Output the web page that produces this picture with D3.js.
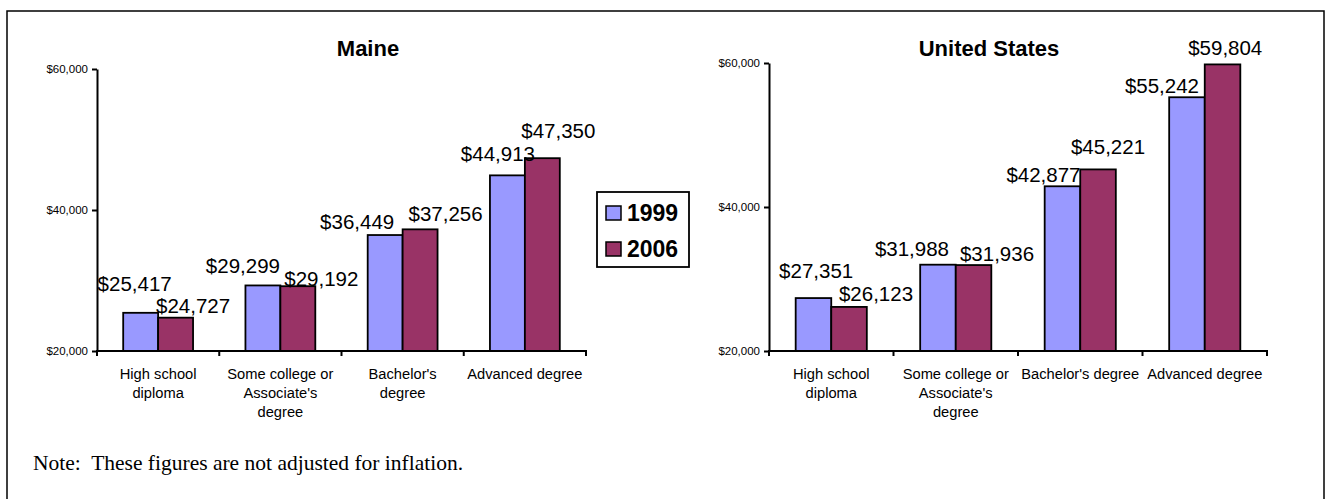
<!DOCTYPE html>
<html>
<head>
<meta charset="utf-8">
<script src="https://cdn.jsdelivr.net/npm/d3@7"></script>
<style>
  html, body { margin: 0; padding: 0; background: #fff; }
  svg { display: block; }
  text { font-family: "Liberation Sans", Arial, sans-serif; fill: #000; }
</style>
</head>
<body>
<svg id="chart" width="1329" height="499"></svg>
<script>
// ---------- data ----------
const categories = ["High school diploma", "Some college or Associate's degree", "Bachelor's degree", "Advanced degree"];
const maineTickLabels = [["High school", "diploma"], ["Some college or", "Associate's", "degree"], ["Bachelor's", "degree"], ["Advanced degree"]];
const usTickLabels = [["High school", "diploma"], ["Some college or", "Associate's", "degree"], ["Bachelor's degree"], ["Advanced degree"]];
const seriesNames = ["1999", "2006"];
const maine1999 = [25417, 29299, 36449, 44913];
const maine2006 = [24727, 29192, 37256, 47350];
const us1999 = [27351, 31988, 42877, 55242];
const us2006 = [26123, 31936, 45221, 59804];
const yTickValues = [20000, 40000, 60000];
const noteText = "Note:  These figures are not adjusted for inflation.";

// label nudges relative to bar centre / bar top (as placed in the original)
const maineNudgeX = [[-6, 17.5], [-20, 23.5], [-28, 25.5], [-9.5, 16]];
const maineGap = [[22, 5], [12, 0], [6, 8.6], [14.7, 20.6]];
const usNudgeX = [[2.7, 27], [-26, 23.5], [-19, 10], [-25, 2.7]];
const usGap = [[19.7, 6], [9, 4.3], [4.3, 15], [4.4, 9.3]];

const colors = ["#9999FF", "#993366"];
const fmt = d => "$" + d3.format(",")(d);

const svg = d3.select("#chart");

// outer border
svg.append("rect").attr("x", 7).attr("y", 11).attr("width", 1317).attr("height", 500)
  .attr("fill", "none").attr("stroke", "#000").attr("stroke-width", 1.5);

const charts = [
  { title: "Maine", titleX: 368, x0: 97, x1: 586, yTop: 69, yBottom: 351,
    values: [maine1999, maine2006], ticks: maineTickLabels, nx: maineNudgeX, gap: maineGap },
  { title: "United States", titleX: 989, x0: 769, x1: 1267, yTop: 63, yBottom: 351,
    values: [us1999, us2006], ticks: usTickLabels, nx: usNudgeX, gap: usGap }
];

charts.forEach(c => {
  const g = svg.append("g");
  const x = d3.scaleBand().domain(categories).range([c.x0, c.x1]).paddingInner(0).paddingOuter(0);
  const xs = d3.scaleBand().domain(seriesNames).range([0, x.bandwidth()]).paddingInner(0).paddingOuter(0.75);
  const y = d3.scaleLinear().domain([20000, 60000]).range([c.yBottom, c.yTop]);

  // title
  g.append("text").attr("x", c.titleX).attr("y", 56).attr("text-anchor", "middle")
    .style("font-size", "22px").style("font-weight", "bold").text(c.title);

  // bars
  seriesNames.forEach((s, si) => {
    g.selectAll(null).data(c.values[si]).enter().append("rect")
      .attr("x", (d, i) => x(categories[i]) + xs(s))
      .attr("y", d => y(d))
      .attr("width", xs.bandwidth())
      .attr("height", d => y(20000) - y(d))
      .attr("fill", colors[si])
      .attr("stroke", "#000").attr("stroke-width", 1.8);
  });

  // y axis
  const yAxis = d3.axisLeft(y).tickValues(yTickValues).tickSize(5).tickSizeOuter(0).tickPadding(4)
    .tickFormat(fmt);
  const ya = g.append("g").attr("transform", `translate(${c.x0},0)`).call(yAxis);
  ya.select(".domain").attr("stroke-width", 2);
  ya.selectAll(".tick line").attr("stroke-width", 2);
  ya.selectAll(".tick text").style("font-size", "11.5px")
    .style("font-family", '"Liberation Sans", Arial, sans-serif').attr("fill", "#000");

  // x axis line + boundary ticks
  g.append("line").attr("x1", c.x0 - 1).attr("x2", c.x1 + 1)
    .attr("y1", y(20000)).attr("y2", y(20000)).attr("stroke", "#000").attr("stroke-width", 2);
  const bounds = categories.map(cat => x(cat)).concat([x(categories[categories.length - 1]) + x.bandwidth()]);
  g.selectAll(null).data(bounds).enter().append("line")
    .attr("x1", d => d).attr("x2", d => d)
    .attr("y1", y(20000)).attr("y2", y(20000) + 5)
    .attr("stroke", "#000").attr("stroke-width", 2);

  // category labels
  categories.forEach((cat, i) => {
    const t = g.append("text").attr("text-anchor", "middle")
      .attr("x", x(cat) + x.bandwidth() / 2).attr("y", 379.3)
      .style("font-size", "14.7px");
    c.ticks[i].forEach((line, li) => {
      t.append("tspan").attr("x", x(cat) + x.bandwidth() / 2).attr("dy", li === 0 ? 0 : 18.7).text(line);
    });
  });

  // value labels
  seriesNames.forEach((s, si) => {
    g.selectAll(null).data(c.values[si]).enter().append("text")
      .attr("text-anchor", "middle")
      .attr("x", (d, i) => x(categories[i]) + xs(s) + xs.bandwidth() / 2 + c.nx[i][si])
      .attr("y", (d, i) => y(d) - c.gap[i][si])
      .style("font-size", "20.5px")
      .text(d => fmt(d));
  });
});

// legend
const lg = svg.append("g");
lg.append("rect").attr("x", 597).attr("y", 192).attr("width", 92).attr("height", 75)
  .attr("fill", "#fff").attr("stroke", "#000").attr("stroke-width", 1.8);
seriesNames.forEach((s, i) => {
  const yy = 206 + i * 36;
  lg.append("rect").attr("x", 606).attr("y", yy).attr("width", 15).attr("height", 14)
    .attr("fill", colors[i]).attr("stroke", "#000").attr("stroke-width", 1.5);
  lg.append("text").attr("x", 627).attr("y", yy + 14.5)
    .style("font-size", "23px").style("font-weight", "bold").text(s);
});

// note
svg.append("text").attr("x", 33).attr("y", 470)
  .style("font-family", '"Liberation Serif", "Times New Roman", serif')
  .style("font-size", "21.5px").style("white-space", "pre")
  .text(noteText);
</script>
</body>
</html>
